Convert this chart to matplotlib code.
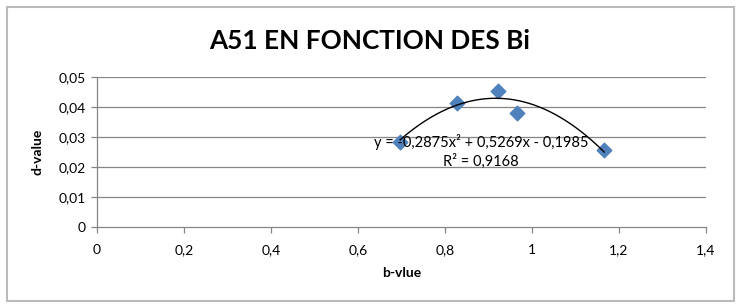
import numpy as np
import matplotlib
matplotlib.use("Agg")
from matplotlib import pyplot as plt
from matplotlib.ticker import FuncFormatter, MultipleLocator
from matplotlib.patches import Rectangle

# values
b_value = [0.697, 0.827, 0.922, 0.965, 1.166]
d_value = [0.0283, 0.0415, 0.0453, 0.0381, 0.0256]
# trendline coefficients as printed on the chart (a x^2 + b x + c)
trend_coef = [-0.2875, 0.5269, -0.1985]
r2 = 0.9168

plt.rcParams['font.family'] = ['Lato', 'DejaVu Sans']

fig = plt.figure(figsize=(7.42, 3.08), dpi=100)
ax = fig.add_axes([97 / 742, 81 / 308, 609 / 742, 150 / 308])

grid_col = '#868686'
for yv in np.arange(0.01, 0.051, 0.01):
    ax.axhline(yv, color=grid_col, lw=0.9, zorder=1)

ax.scatter(b_value, d_value, marker='D', s=55, color='#4F81BD', zorder=3)

xs = np.linspace(min(b_value), max(b_value), 200)
ax.plot(xs, np.polyval(trend_coef, xs), color='black', lw=1.0, zorder=4)

ax.set_xlim(0, 1.4)
ax.set_ylim(0, 0.05)
ax.xaxis.set_major_locator(MultipleLocator(0.2))
ax.yaxis.set_major_locator(MultipleLocator(0.01))

def comma(v, pos):
    return ('%g' % round(v, 4)).replace('.', ',')

ax.xaxis.set_major_formatter(FuncFormatter(comma))
ax.yaxis.set_major_formatter(FuncFormatter(comma))

for side in ['top', 'right']:
    ax.spines[side].set_visible(False)
for side in ['left', 'bottom']:
    ax.spines[side].set_color(grid_col)
    ax.spines[side].set_linewidth(0.9)
ax.tick_params(axis='both', direction='out', length=4, width=0.9,
               color=grid_col, labelsize=10, labelcolor='black')
ax.tick_params(axis='x', pad=8)
ax.tick_params(axis='y', pad=4)

eq = 'y = -0,2875x² + 0,5269x - 0,1985\nR² = %s' % ('%g' % r2).replace('.', ',')
ax.text(0.883, 0.0251, eq, ha='center', va='center', fontsize=10.5,
        linespacing=1.3, zorder=5)

fig.text(370 / 742, 1 - 41 / 308, 'A51 EN FONCTION DES Bi', ha='center',
         va='center', fontsize=18.8, fontweight='bold')
fig.text(402 / 742, 1 - 273 / 308, 'b-vlue', ha='center', va='center',
         fontsize=10, fontweight='bold')
fig.text(37 / 742, 1 - 152 / 308, 'd-value', ha='center', va='center',
         fontsize=10, fontweight='bold', rotation=90)

fig.patches.append(Rectangle((7 / 742, 1 - 301 / 308), 727 / 742, 294 / 308,
                             transform=fig.transFigure, fill=False,
                             edgecolor='#BBBBBB', lw=1.5))

fig.savefig('out.png', dpi=100)
